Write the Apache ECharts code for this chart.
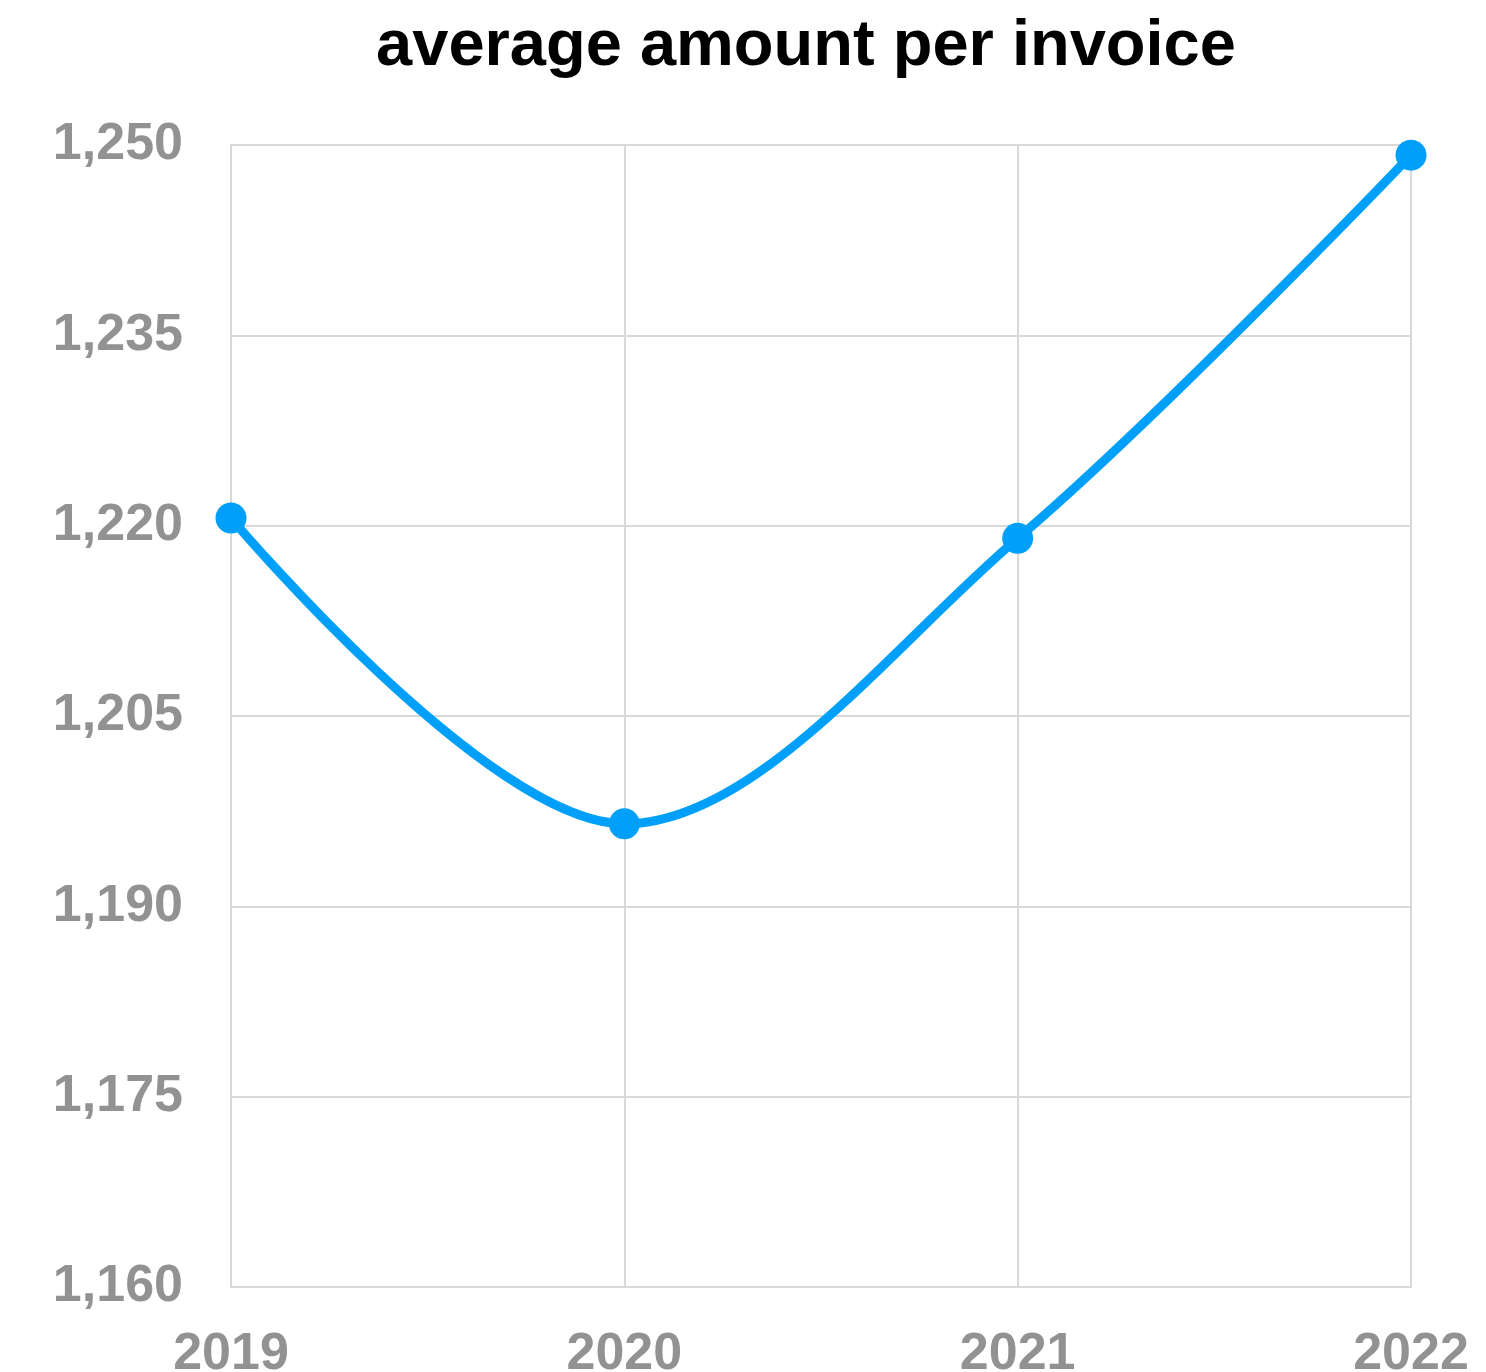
<!DOCTYPE html>
<html>
<head>
<meta charset="utf-8">
<script src="https://cdn.jsdelivr.net/npm/echarts@6/dist/echarts.min.js"></script>
<style>
  html, body { margin: 0; padding: 0; background: #fff; overflow: hidden; }
  #chart { width: 1486px; height: 1372px; }
</style>
</head>
<body>
<div id="chart"></div>
<script>
// Yearly average invoice amount
const years = ['2019', '2020', '2021', '2022'];
const avgAmount = [1220.6, 1196.5, 1219.0, 1249.2];
const yTicks = [1160, 1175, 1190, 1205, 1220, 1235, 1250];

const labelFont = {
  color: '#929292',
  fontFamily: 'Liberation Sans, Arial, sans-serif',
  fontWeight: 'bold',
  fontSize: 52
};

const gridLine = { color: '#d9d9d9', width: 2 };

const chart = echarts.init(document.getElementById('chart'));
chart.setOption({
  animation: false,
  title: {
    text: 'average amount per invoice',
    left: 801,
    textAlign: 'center',
    top: 10,
    textStyle: {
      color: '#000',
      fontFamily: 'Liberation Sans, Arial, sans-serif',
      fontWeight: 'bold',
      fontSize: 65
    }
  },
  grid: { left: 231, right: 75, top: 145, bottom: 85, outerBoundsMode: 'none', containLabel: false },
  xAxis: {
    type: 'category',
    data: years,
    boundaryGap: false,
    axisLine: { show: true, lineStyle: gridLine },
    axisTick: { show: false },
    splitLine: { show: true, lineStyle: gridLine },
    axisLabel: Object.assign({ margin: 42 }, labelFont)
  },
  yAxis: {
    type: 'value',
    min: yTicks[0],
    max: yTicks[yTicks.length - 1],
    interval: yTicks[1] - yTicks[0],
    axisLine: { show: true, lineStyle: gridLine },
    axisTick: { show: false },
    splitLine: { show: true, lineStyle: gridLine },
    axisLabel: Object.assign({
      margin: 48,
      formatter: v => v.toLocaleString('en-US')
    }, labelFont)
  },
  series: [{
    type: 'line',
    data: avgAmount,
    smooth: 0.34,
    symbol: 'circle',
    symbolSize: 31,
    lineStyle: { color: '#00a0fa', width: 9 },
    itemStyle: { color: '#00a0fa' }
  }]
});
</script>
</body>
</html>
